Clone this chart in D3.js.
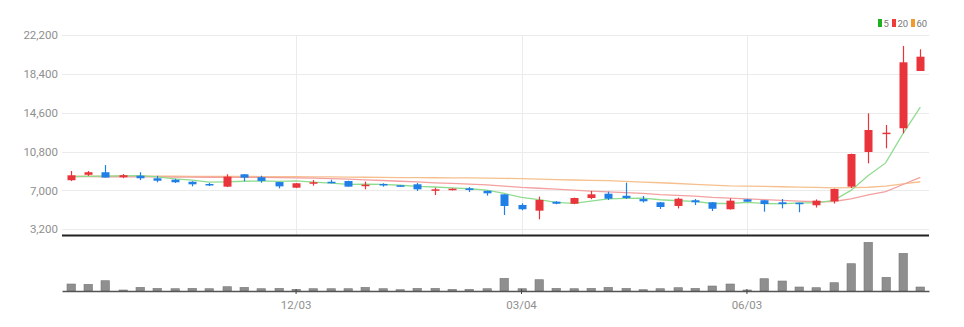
<!DOCTYPE html>
<html><head><meta charset="utf-8">
<script src="https://cdn.jsdelivr.net/npm/d3@7"></script>
<style>
body{margin:0;background:#fff;}
svg text{font-family:"Liberation Sans Narrow","Roboto",Lato,sans-serif;}
</style>
</head><body><svg id="c" width="964" height="327"></svg>
<script>
const dates = ["09/03","09/10","09/17","09/24","10/01","10/08","10/15","10/22","10/29","11/05",
  "11/12","11/19","11/26","12/03","12/10","12/17","12/24","12/31","01/07","01/14",
  "01/21","01/28","02/04","02/11","02/18","02/25","03/04","03/11","03/18","03/25",
  "04/01","04/08","04/15","04/22","04/29","05/06","05/13","05/20","05/27","06/03",
  "06/10","06/17","06/24","07/01","07/08","07/15","07/22","07/29","08/05","08/12"];
const openP = [8000,8530,8780,8290,8440,8190,8050,7850,7630,7370,
  8580,8290,7820,7270,7660,7850,7920,7460,7630,7500,
  7600,6970,7040,7200,6970,6620,5580,5020,5900,5700,
  6260,6680,6480,6160,5840,5480,6040,5840,5160,6130,
  6040,5840,5800,5550,5940,7370,10760,12520,13080,18680];
const highP = [8900,8900,9480,8600,8780,8430,8150,7900,7730,8580,
  8600,8440,7830,7730,8020,8050,7950,7860,7700,7500,
  7730,7270,7200,7330,6970,6620,5740,6390,5950,6300,
  6950,6880,7760,6460,5860,6290,6160,5870,6230,6150,
  6050,6160,5800,6120,7180,10600,14540,13400,21130,20800];
const lowP = [7920,8420,8260,8200,8020,7800,7730,7400,7430,7330,
  7900,7760,7200,7230,7470,7700,7370,7110,7370,7400,
  6950,6550,7000,6850,6490,4600,5060,4180,5650,5650,
  6150,6060,6160,5820,5190,5240,5570,4990,5130,5880,
  4920,5250,4870,5330,5720,7240,9650,11120,12590,18680];
const closeP = [8480,8780,8260,8490,8190,7950,7800,7600,7500,8350,
  8250,7930,7400,7700,7800,7700,7370,7560,7500,7400,
  7110,7110,7170,7040,6720,5480,5160,6070,5700,6260,
  6620,6190,6260,5940,5380,6190,5840,5210,6000,5900,
  5670,5670,5650,6000,7140,10560,12910,12650,19530,20080];
const volume = [140000,134000,206000,20000,74000,54000,46000,54000,46000,86000,
  74000,46000,54000,34000,46000,46000,46000,74000,46000,26000,
  54000,54000,34000,34000,46000,254000,46000,226000,54000,46000,
  54000,74000,54000,26000,46000,66000,54000,100000,140000,20000,
  246000,200000,80000,66000,166000,546000,974000,274000,754000,80000];
const ma5 = [8350,8380,8400,8420,8440,8334,8138,8006,7808,7840,
  7900,7926,7886,7926,7816,7706,7594,7626,7586,7506,
  7388,7336,7258,7166,7030,6704,6314,6094,5826,5734,
  5962,6168,6220,6254,6090,5992,5922,5724,5724,5828,
  5724,5690,5778,5778,6026,7004,8466,9692,12558,15146];
const ma20 = [8350,8350,8340,8340,8330,8320,8310,8300,8290,8280,
  8280,8270,8250,8230,8200,8150,8100,8040,7970,7900,
  7832,7748,7694,7622,7548,7424,7292,7216,7126,7022,
  6940,6853,6796,6708,6587,6512,6435,6318,6243,6168,
  6096,6024,5948,5896,5917,6171,6558,6887,7579,8270];
const ma60 = [8400,8400,8400,8400,8400,8390,8390,8380,8380,8370,
  8370,8360,8350,8340,8330,8320,8310,8290,8280,8260,
  8250,8240,8230,8220,8200,8180,8150,8100,8060,8020,
  7990,7950,7890,7820,7750,7680,7600,7520,7450,7420,
  7390,7360,7330,7290,7260,7270,7310,7430,7640,7850];
const yTicks = [3200,7000,10800,14600,18400,22200];
const xTickLabels = ["12/03","03/04","06/03"];
const legendNames = ["5","20","60"];

const svg = d3.select("#c");
const L = 62, R = 929;
const x = d3.scaleBand().domain(dates).range([L, R]);
const y = d3.scaleLinear().domain([3200, 22200]).range([229.3, 35]);
const v = d3.scaleLinear().domain([0, 1000000]).range([291, 241]);
const cx = d => x(d) + x.bandwidth() / 2;

// grid
svg.append("g").selectAll("line").data(yTicks).join("line")
  .attr("x1", L).attr("x2", R).attr("y1", d => Math.round(y(d)) + 0.5).attr("y2", d => Math.round(y(d)) + 0.5)
  .attr("stroke", "#ebebeb");
svg.append("g").selectAll("line").data(xTickLabels).join("line")
  .attr("x1", d => Math.round(cx(d)) + 0.5).attr("x2", d => Math.round(cx(d)) + 0.5)
  .attr("y1", 35).attr("y2", 235).attr("stroke", "#ebebeb");

// y labels
const ya = svg.append("g").attr("transform", `translate(${L},0)`)
  .call(d3.axisLeft(y).tickValues(yTicks).tickFormat(d3.format(",")).tickSize(0).tickPadding(4));
ya.select(".domain").remove();
ya.selectAll("text").attr("fill", "#8f8f8f").attr("font-size", 11.5);

// moving averages
const idx = d3.range(dates.length);
const lineGen = arr => d3.line().x(i => cx(dates[i])).y(i => y(arr[i]))(idx);
svg.append("path").attr("d", lineGen(ma60)).attr("fill", "none").attr("stroke", "#f6c08e").attr("stroke-width", 1.3);
svg.append("path").attr("d", lineGen(ma20)).attr("fill", "none").attr("stroke", "#f3a0a0").attr("stroke-width", 1.3);
svg.append("path").attr("d", lineGen(ma5)).attr("fill", "none").attr("stroke", "#8fdc8f").attr("stroke-width", 1.3);

// candles
const UP = "#e8343a", DN = "#1f7fe6";
const bw = 8;
const cg = svg.append("g").selectAll("g").data(idx).join("g");
cg.append("line")
  .attr("x1", i => Math.round(cx(dates[i])) + 0.5).attr("x2", i => Math.round(cx(dates[i])) + 0.5)
  .attr("y1", i => y(highP[i])).attr("y2", i => y(lowP[i]))
  .attr("stroke", i => closeP[i] >= openP[i] ? UP : DN).attr("stroke-width", 1.2);
cg.append("rect")
  .attr("x", i => Math.round(cx(dates[i])) + 0.5 - bw / 2)
  .attr("width", bw)
  .attr("y", i => y(Math.max(openP[i], closeP[i])))
  .attr("height", i => Math.max(1.5, Math.abs(y(openP[i]) - y(closeP[i]))))
  .attr("fill", i => closeP[i] >= openP[i] ? UP : DN);

// separator
svg.append("line").attr("x1", L).attr("x2", R).attr("y1", 235.5).attr("y2", 235.5)
  .attr("stroke", "#222").attr("stroke-width", 2);

// volume
svg.append("g").selectAll("rect").data(idx).join("rect")
  .attr("x", i => Math.round(cx(dates[i])) - 4)
  .attr("width", 8.5)
  .attr("y", i => v(volume[i]))
  .attr("height", i => v(0) - v(volume[i]))
  .attr("fill", "#8f8f8f").attr("stroke", "#7a7a7a").attr("stroke-width", 0.6);

const xa = svg.append("g").attr("transform", "translate(0,291)")
  .call(d3.axisBottom(x).tickValues(xTickLabels).tickSize(3).tickPadding(7).tickSizeOuter(0));
xa.select(".domain").attr("stroke", "#555").attr("stroke-width", 1.5);
xa.selectAll(".tick line").attr("stroke", "#444").attr("y1", -2);
xa.selectAll("text").attr("fill", "#8f8f8f").attr("font-size", 11.5);

// legend
const legendColors = ["#1fb01f", "#ef3b3b", "#f39a2e"];
const lx = [878, 892, 911];
const lg = svg.append("g").selectAll("g").data(legendNames).join("g")
  .attr("transform", (d, i) => `translate(${lx[i]},19)`);
lg.append("rect").attr("width", 4).attr("height", 8).attr("fill", (d, i) => legendColors[i]);
lg.append("text").attr("x", 5.5).attr("y", 7.8).text(d => d).attr("font-size", 9.5).attr("fill", "#777");
</script></body></html>
